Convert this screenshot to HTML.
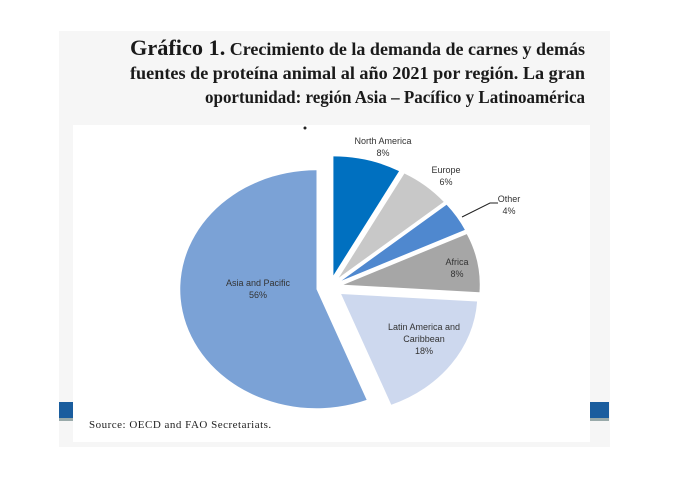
<!DOCTYPE html>
<html><head><meta charset="utf-8"><style>
html,body{margin:0;padding:0;background:#fff;width:687px;height:487px;overflow:hidden}
</style></head><body>
<svg width="687" height="487" xmlns="http://www.w3.org/2000/svg" style="position:absolute;left:0;top:0">
<rect x="59" y="31" width="551" height="416" fill="#f6f6f6"/>
<rect x="73" y="125" width="517" height="317" fill="#fff"/>
<rect x="59" y="402" width="14" height="18" fill="#1a5d9e"/>
<rect x="590" y="402" width="19" height="18" fill="#1a5d9e"/>
<rect x="59" y="418" width="14" height="3" fill="#9aa"/>
<rect x="590" y="418" width="19" height="3" fill="#9aa"/>
<g font-family="Liberation Serif, serif" font-weight="bold" fill="#1a1a1a" text-anchor="end">
<text x="585" y="55" font-size="17.8" textLength="455" lengthAdjust="spacingAndGlyphs"><tspan font-size="22">Gráfico 1.</tspan> Crecimiento de la demanda de carnes y demás</text>
<text x="585" y="79" font-size="17.8" textLength="455" lengthAdjust="spacingAndGlyphs">fuentes de proteína animal al año 2021 por región. La gran</text>
<text x="585" y="103" font-size="17.8" textLength="380" lengthAdjust="spacingAndGlyphs">oportunidad: región Asia – Pacífico y Latinoamérica</text>
</g>
<circle cx="305" cy="128" r="1.5" fill="#222"/>
<g transform="translate(330,287) scale(1.145,1)">
<path d="M2.98,-11.62 L2.98,-130.62 A119,119 0 0 1 60.31,-115.9 Z" fill="#0070c0"/>
<path d="M7.65,-9.25 L64.98,-113.53 A119,119 0 0 1 99.34,-85.1 Z" fill="#c8c8c8"/>
<path d="M10.13,-6.43 L101.82,-82.28 A119,119 0 0 1 117.8,-57.1 Z" fill="#4f88cf"/>
<path d="M11.79,-2.25 L119.46,-52.92 A119,119 0 0 1 130.55,5.22 Z" fill="#a6a6a6"/>
<path d="M9.71,7.05 L128.47,14.52 A119,119 0 0 1 53.51,117.7 Z" fill="#cdd8ee"/>
<path d="M-11.79,2.25 L32.01,112.9 A119,119 0 1 1 -11.79,-116.75 Z" fill="#7ba2d6"/>
</g>
<polyline points="462,217 490,203 498,203" fill="none" stroke="#222" stroke-width="1"/>
<g font-family="Liberation Sans, sans-serif" font-size="9" fill="#333" text-anchor="middle">
<text x="383" y="144">North America</text><text x="383" y="156">8%</text>
<text x="446" y="173">Europe</text><text x="446" y="185">6%</text>
<text x="509" y="202">Other</text><text x="509" y="214">4%</text>
<text x="457" y="265">Africa</text><text x="457" y="277">8%</text>
<text x="424" y="330">Latin America and</text><text x="424" y="342">Caribbean</text><text x="424" y="354">18%</text>
<text x="258" y="286">Asia and Pacific</text><text x="258" y="298">56%</text>
</g>
<text x="89" y="428" font-family="Liberation Serif, serif" font-size="11" fill="#222" letter-spacing="0.5">Source:  OECD and FAO Secretariats.</text>
</svg>
</body></html>
